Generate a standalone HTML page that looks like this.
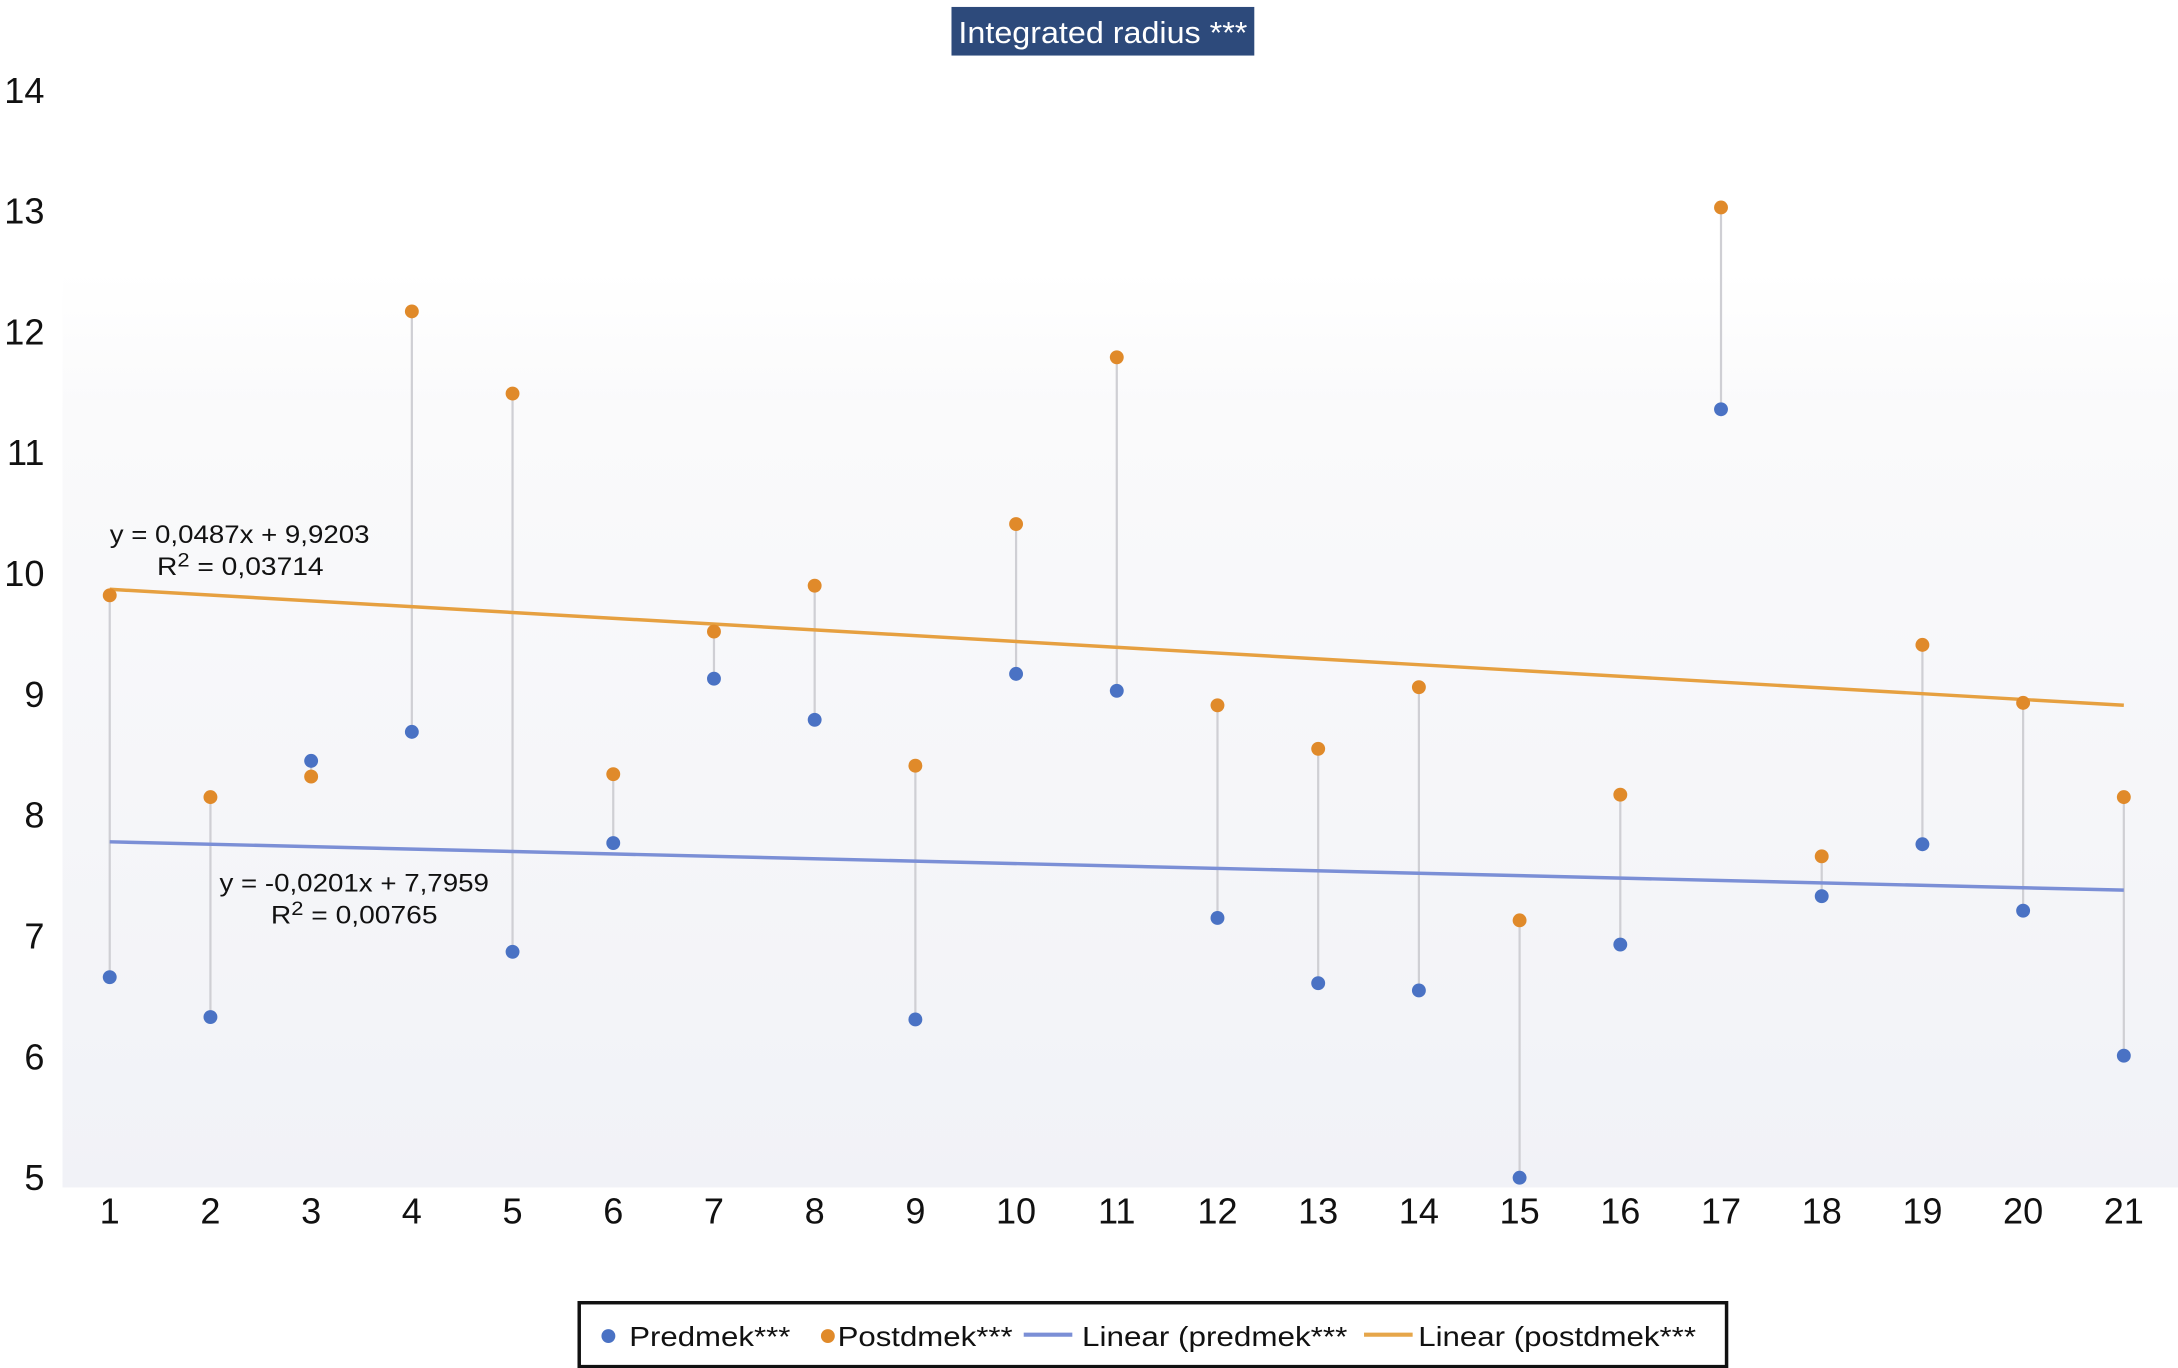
<!DOCTYPE html>
<html><head><meta charset="utf-8"><style>html,body{margin:0;padding:0;background:#fff}svg{display:block}</style></head>
<body>
<svg id="chart" width="2178" height="1368" viewBox="0 0 1568 985" preserveAspectRatio="none" xmlns="http://www.w3.org/2000/svg" font-family="Liberation Sans, sans-serif">
<defs>
<linearGradient id="bg" x1="0" y1="0" x2="0" y2="1">
<stop offset="0" stop-color="#ffffff"/><stop offset="0.15" stop-color="#fafafb"/><stop offset="1" stop-color="#f1f2f7"/>
</linearGradient>
</defs>
<rect x="45" y="195" width="1523" height="660" fill="url(#bg)"/>
<rect x="685" y="5" width="218" height="35" fill="#2d4a7b"/>
<text x="794" y="31" font-size="22" fill="#fff" text-anchor="middle" textLength="208" lengthAdjust="spacingAndGlyphs">Integrated radius ***</text>
<g id="yaxis"></g>
<g id="xaxis"></g>
<g id="stems"></g>
<g id="trends"></g>
<g id="dots"></g>
<text x="79" y="391" font-size="18" fill="#111" textLength="187" lengthAdjust="spacingAndGlyphs">y = 0,0487x + 9,9203</text>
<text x="113" y="414" font-size="18" fill="#111" textLength="120" lengthAdjust="spacingAndGlyphs">R<tspan dy="-6" font-size="14">2</tspan><tspan dy="6"> = 0,03714</tspan></text>
<text x="158" y="642" font-size="18" fill="#111" textLength="194" lengthAdjust="spacingAndGlyphs">y = -0,0201x + 7,7959</text>
<text x="195" y="665" font-size="18" fill="#111" textLength="120" lengthAdjust="spacingAndGlyphs">R<tspan dy="-6" font-size="14">2</tspan><tspan dy="6"> = 0,00765</tspan></text>
<g>
<rect x="417" y="938" width="826" height="46" fill="#fff" stroke="#111" stroke-width="2.5"/>
<circle cx="438" cy="962" r="5" fill="#4a72c4"/>
<text x="453" y="969" font-size="20" fill="#111" textLength="116" lengthAdjust="spacingAndGlyphs">Predmek***</text>
<circle cx="596" cy="962" r="5" fill="#e08a2a"/>
<text x="603" y="969" font-size="20" fill="#111" textLength="126" lengthAdjust="spacingAndGlyphs">Postdmek***</text>
<line x1="737" y1="961" x2="772" y2="961" stroke="#7b8fd6" stroke-width="3"/>
<text x="779" y="969" font-size="20" fill="#111" textLength="191" lengthAdjust="spacingAndGlyphs">Linear (predmek***</text>
<line x1="982" y1="961" x2="1017" y2="961" stroke="#e6a64a" stroke-width="3"/>
<text x="1021" y="969" font-size="20" fill="#111" textLength="200" lengthAdjust="spacingAndGlyphs">Linear (postdmek***</text>
</g>
</svg>
<script>
const categories = [1,2,3,4,5,6,7,8,9,10,11,12,13,14,15,16,17,18,19,20,21];
const preValues = [6.66,6.33,8.45,8.69,6.87,7.77,9.13,8.79,6.31,9.17,9.03,7.15,6.61,6.55,5.0,6.93,11.36,7.33,7.76,7.21,6.01];
const postValues = [9.82,8.15,8.32,12.17,11.49,8.34,9.52,9.90,8.41,10.41,11.79,8.91,8.55,9.06,7.13,8.17,13.03,7.66,9.41,8.93,8.15];
const yTicks = [5,6,7,8,9,10,11,12,13,14];
const preTrend = [7.78,7.38];
const postTrend = [9.87,8.91];
const NS='http://www.w3.org/2000/svg';
function xs(c){return 79+(c-1)*72.5;}
function ys(v){return 848-(v-5)*87;}
function mk(tag,attrs,parent){const e=document.createElementNS(NS,tag);for(const k in attrs)e.setAttribute(k,attrs[k]);parent.appendChild(e);return e;}
const ya=document.getElementById('yaxis'),xa=document.getElementById('xaxis'),st=document.getElementById('stems'),tr=document.getElementById('trends'),dt=document.getElementById('dots');
yTicks.forEach(t=>{const e=mk('text',{x:32,y:ys(t)+9,'font-size':26,'text-anchor':'end',fill:'#111'},ya);e.textContent=t;

});
categories.forEach((c,i)=>{
const e=mk('text',{x:xs(c),y:881,'font-size':26,'text-anchor':'middle',fill:'#111'},xa);e.textContent=c;


const l=mk('line',{x1:xs(c),x2:xs(c),y1:ys(preValues[i]),y2:ys(postValues[i]),stroke:'#cfcfd4','stroke-width':1.6},st);


});
const c0=categories[0],c1=categories[categories.length-1];
const t1=mk('line',{x1:xs(c0),y1:ys(postTrend[0]),x2:xs(c1),y2:ys(postTrend[1]),stroke:'#e6a040','stroke-width':2.5},tr);


const t2=mk('line',{x1:xs(c0),y1:ys(preTrend[0]),x2:xs(c1),y2:ys(preTrend[1]),stroke:'#7b8fd6','stroke-width':2.5},tr);


categories.forEach((c,i)=>{
const a=mk('circle',{cx:xs(c),cy:ys(preValues[i]),r:5,fill:'#4a72c4'},dt);


const b=mk('circle',{cx:xs(c),cy:ys(postValues[i]),r:5,fill:'#e08a2a'},dt);


});
</script>
</body></html>
